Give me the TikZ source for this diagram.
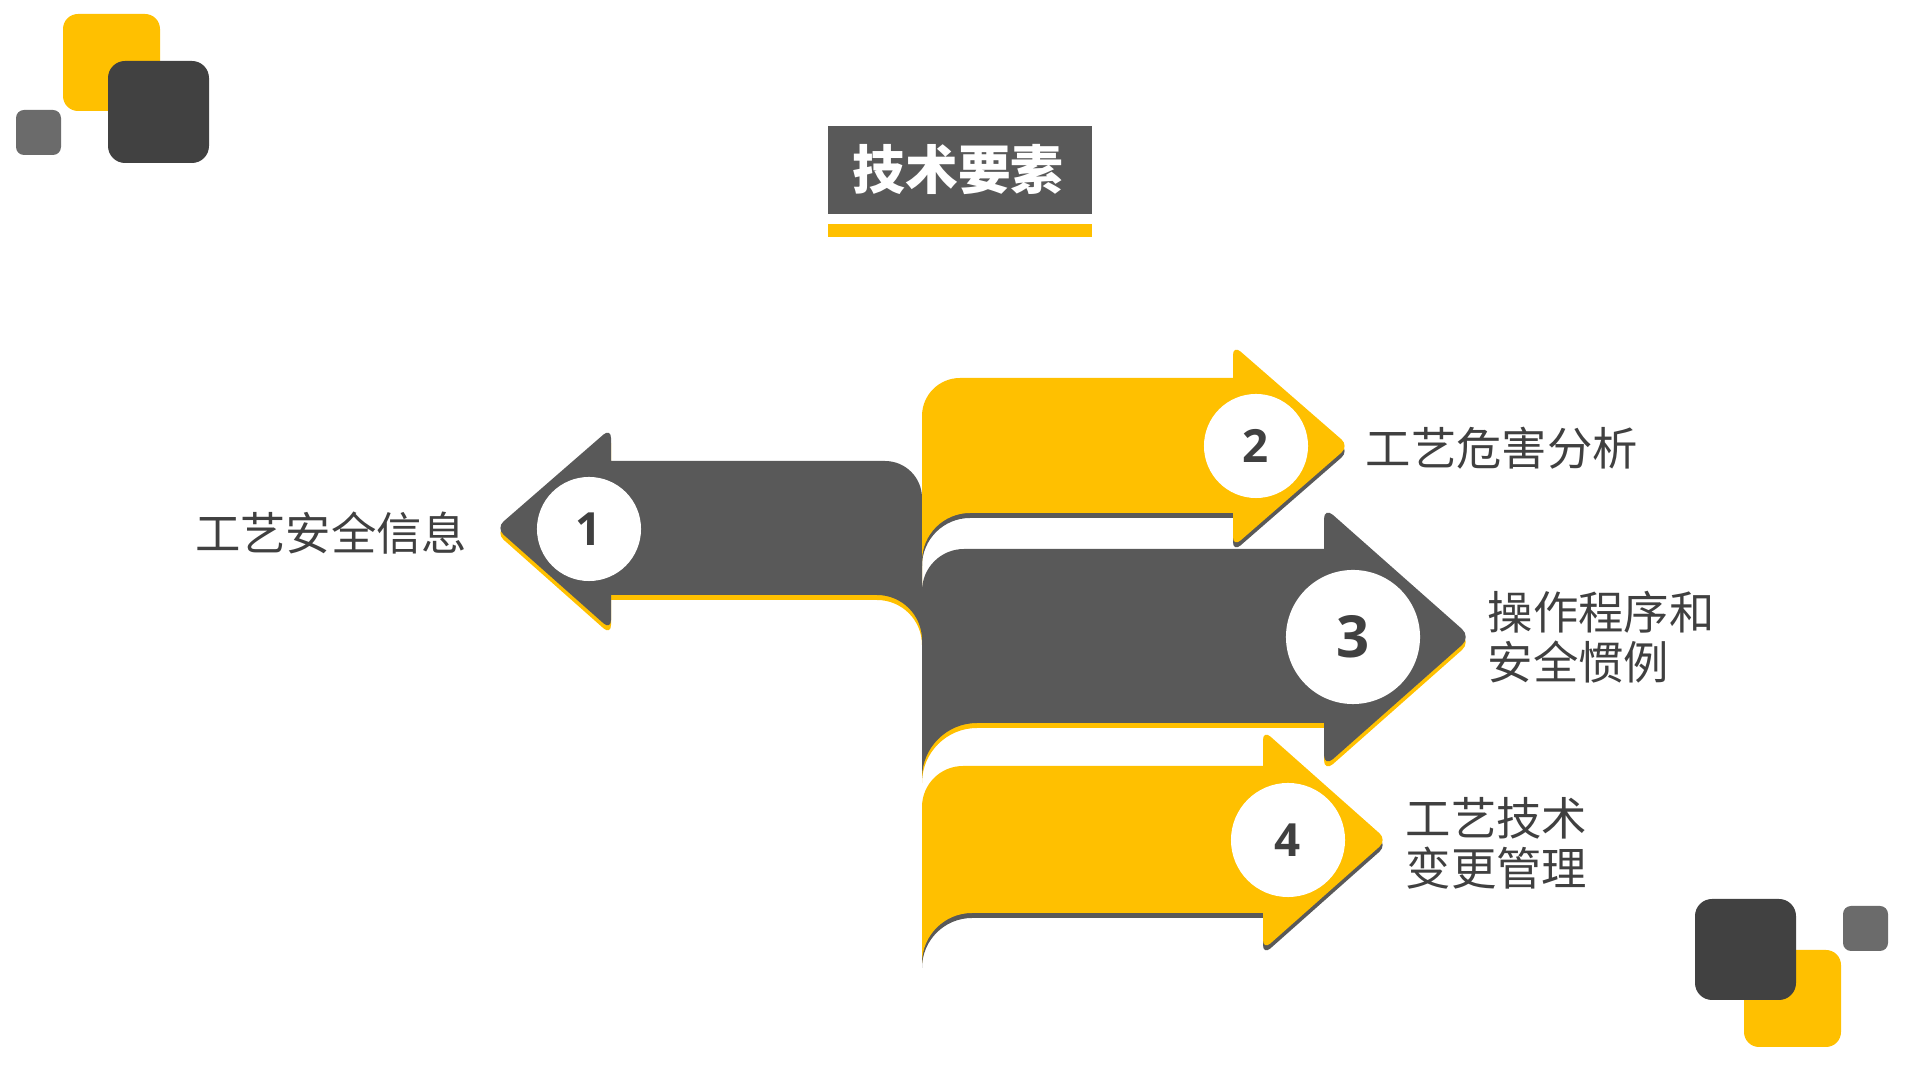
\documentclass[tikz,border=0pt]{standalone}
\usepackage{fontspec}
\setmainfont{Open Sans}
\newfontfamily\cjk{Noto Sans CJK SC}
\definecolor{ylw}{HTML}{FFC000}
\definecolor{drk}{HTML}{595959}
\definecolor{deep}{HTML}{414141}
\definecolor{mid}{HTML}{6B6B6B}
\definecolor{txt}{HTML}{404040}
\begin{document}
\begin{tikzpicture}[x=0.01cm, y=0.01cm,
    yarrow/.style={fill=ylw, preaction={fill=drk, transform canvas={yshift=-0.05cm}}},
    darrow/.style={fill=drk, preaction={fill=ylw, transform canvas={yshift=-0.05cm}}},
    badge/.style={circle, fill=white, inner sep=0pt, text=txt, font=\bfseries},
    itemtext/.style={inner sep=0pt, text=txt, align=left, font=\cjk\fontsize{12.9pt}{14.2pt}\selectfont}]
    \useasboundingbox (0,0) rectangle (1920,-1080);

    % corner tiles
    \fill[ylw, rounded corners=0.15cm]  (63,-14) rectangle (160,-111);
    \fill[deep, rounded corners=0.17cm] (108,-61) rectangle (209,-163);
    \fill[mid, rounded corners=0.08cm]  (16,-110) rectangle (61,-155);
    \fill[ylw, rounded corners=0.15cm]  (1744,-950) rectangle (1841,-1047);
    \fill[deep, rounded corners=0.17cm] (1695,-899) rectangle (1796,-1000);
    \fill[mid, rounded corners=0.08cm]  (1843,-906) rectangle (1888,-951);

    % title
    \fill[drk] (828,-126) rectangle (1092,-214);
    \fill[ylw] (828,-224) rectangle (1092,-237);
    \node[inner sep=0pt, text=white, font=\cjk\bfseries\fontsize{15pt}{16pt}\selectfont] (title) at (958,-170) {技术要素};

    % arrow 1
    \fill[darrow] (922,-498) arc[start angle=0, end angle=90, radius=37] -- (611,-461)
        [rounded corners=0.1cm] -- (611,-428) -- (496,-528) -- (611,-630) [sharp corners] -- (611,-595)
        -- (877,-595) arc[start angle=90, end angle=0, radius=45] -- cycle;
    % arrow 2
    \fill[yarrow] (922,-416) arc[start angle=180, end angle=90, radius=38] -- (1233,-378)
        [rounded corners=0.1cm] -- (1233,-345) -- (1349,-446) -- (1233,-547) [sharp corners] -- (1233,-513)
        -- (970,-513) arc[start angle=90, end angle=180, radius=48] -- cycle;
    % arrow 3
    \fill[darrow] (922,-591) arc[start angle=180, end angle=90, radius=42] -- (1324,-549)
        [rounded corners=0.12cm] -- (1324,-507) -- (1471,-637) -- (1324,-767) [sharp corners] -- (1324,-723)
        -- (977,-723) arc[start angle=90, end angle=180, radius=55] -- cycle;
    % arrow 4
    \fill[yarrow] (922,-807) arc[start angle=180, end angle=90, radius=41] -- (1263,-766)
        [rounded corners=0.1cm] -- (1263,-730) -- (1387,-840) -- (1263,-950) [sharp corners] -- (1263,-913)
        -- (972,-913) arc[start angle=90, end angle=180, radius=50] -- cycle;

    % badges
    \node[badge, minimum size=1.04cm, font=\bfseries\fontsize{13pt}{13pt}\selectfont] (b1) at (589,-529) {1};
    \node[badge, minimum size=1.04cm, font=\bfseries\fontsize{13pt}{13pt}\selectfont] (b2) at (1256,-446) {2};
    \node[badge, minimum size=1.34cm, font=\bfseries\fontsize{16.5pt}{16.5pt}\selectfont] (b3) at (1353,-637) {3};
    \node[badge, minimum size=1.14cm, font=\bfseries\fontsize{13pt}{13pt}\selectfont] (b4) at (1288,-840) {4};

    % texts
    \node[itemtext, anchor=east] (t1) at (468,-533) {工艺安全信息};
    \node[itemtext, anchor=west] (t2) at (1365,-448) {工艺危害分析};
    \node[itemtext, anchor=west] (t3) at (1487,-637) {操作程序和\\安全惯例};
    \node[itemtext, anchor=west] (t4) at (1405,-843) {工艺技术\\变更管理};
\end{tikzpicture}
\end{document}
